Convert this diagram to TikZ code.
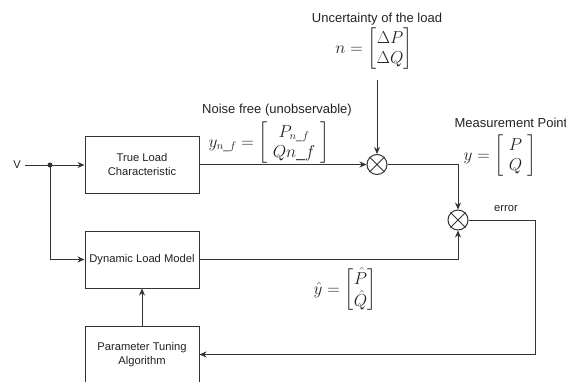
\documentclass[tikz,border=0pt]{standalone}
\usepackage{amsmath}
\usepackage[no-math]{fontspec}
\setmainfont{Liberation Sans}
\usetikzlibrary{arrows.meta}
\definecolor{ln}{HTML}{333333}
\definecolor{tx}{HTML}{222222}
\tikzset{
  blockbox/.style={draw=ln, line width=1pt, minimum width=114pt, minimum height=57pt, align=center, font=\fontsize{11.2}{13.5}\selectfont, text=tx, inner sep=0pt},
  mult/.style={draw=ln, line width=1pt, circle, minimum size=20pt, inner sep=0pt},
  arr/.style={draw=ln, line width=1pt, -{Stealth[length=7pt,width=6pt]}},
  plain/.style={draw=ln, line width=1pt},
  lab/.style={font=\fontsize{13}{15}\selectfont, text=tx, inner sep=0pt},
  mth/.style={font=\fontsize{16}{20}\selectfont, text=tx, inner sep=0pt},
}
\begin{document}
\begin{tikzpicture}[x=1pt,y=-1pt]
\useasboundingbox (0,0) rectangle (566,381);
\node[blockbox] (tlc) at (142,164.5) {True Load\\Characteristic};
\node[blockbox] (dlm) at (142,259.5) {Dynamic Load Model};
\node[blockbox] (pta) at (142,354.5) {Parameter Tuning\\Algorithm};
\node[lab, font=\fontsize{11.2}{13}\selectfont] (v) at (17,165) {V};
\node[circle, fill=ln, inner sep=0pt, minimum size=5pt] (dot) at (50,165) {};
\node[mult] (m1) at (377,164.5) {};
\node[mult] (m2) at (458,220) {};
\draw[plain] (m1.45) -- (m1.225) (m1.135) -- (m1.315);
\draw[plain] (m2.45) -- (m2.225) (m2.135) -- (m2.315);

\node[lab] (unc) at (377,19) {Uncertainty of the load};
\node[mth] (nmat) at (374,49) {$n=\begin{bmatrix}\Delta P\\ \Delta Q\end{bmatrix}$};
\node[lab] (nf) at (277,110) {Noise free (unobservable)};
\node[mth] (ynf) at (269,143) {$y_{n\_f}=\left[\begin{array}{c}P_{n\_f}\\ Qn\_f\end{array}\right]$};
\node[lab] (mp) at (511,123) {Measurement Point};
\node[mth] (ymat) at (500,156) {$y=\left[\begin{array}{c}P\\ Q\end{array}\right]$};
\node[lab, font=\fontsize{11.2}{13}\selectfont] (err) at (506,209) {error};
\node[mth] (yhat) at (345,290) {$\hat{y}=\begin{bmatrix}\hat{P}\\ \hat{Q}\end{bmatrix}$};

\coordinate (c1) at (535,220);
\coordinate (ntop) at (377,80);
\draw[plain] (v.east) ++(4,0) -- (dot.center);
\draw[arr] (dot.center) -- (tlc.west |- dot.center);
\draw[arr] (dot.center) |- (dlm.west);
\draw[arr] (tlc.east |- m1.west) -- (m1.west);
\draw[arr] (ntop) -- (m1.north);
\draw[arr] (m1.east) -| (m2.north);
\draw[arr] (dlm.east) -| (m2.south);
\draw[arr] (m2.east) -- (c1) |- (pta.east);
\draw[arr] (pta.north) -- (dlm.south);
\end{tikzpicture}
\end{document}
